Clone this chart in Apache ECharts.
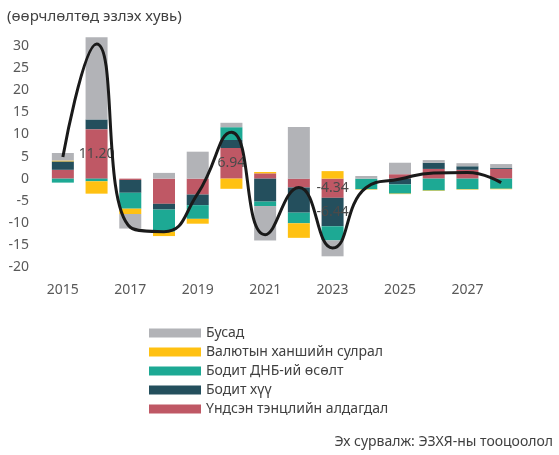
<!DOCTYPE html>
<html>
<head>
<meta charset="utf-8">
<script src="https://cdn.jsdelivr.net/npm/echarts@6/dist/echarts.min.js"></script>
<style>
  html, body { margin: 0; padding: 0; background: #fff; }
  #chart { width: 559px; height: 455px; }
</style>
</head>
<body>
<div id="chart"></div>
<script>
const years = ['2015', '2016', '2017', '2018', '2019', '2020', '2021',
  '2022', '2023', '2024', '2025', '2026', '2027', '2028'];

// stacked from zero outwards, same order as the bars
const primaryDeficit = [2.0, 11.2, -0.3, -5.7, -3.6, 6.94, 1.2, -2.0, -4.34, 0, 1.0, 2.2, 2.0, 2.2];
const realRate = [1.9, 2.2, -2.9, -1.3, -2.4, 1.8, -5.2, -5.7, -6.44, 0, -1.3, 1.4, 0.8, 0.2];
const gdpGrowth = [-0.9, -0.6, -3.6, -5.0, -3.1, 2.9, -1.0, -2.4, -3.2, -2.4, -2.1, -2.7, -2.4, -2.3];
const fxDepreciation = [0.2, -2.8, -1.2, -1.0, -1.1, -2.3, 0.3, -3.3, 1.7, -0.1, -0.1, -0.1, -0.1, -0.1];
const other = [1.7, 18.6, -3.3, 1.3, 6.1, 1.0, -7.8, 11.7, -3.6, 0.6, 2.6, 0.6, 0.7, 0.9];
const total = [4.9, 30.5, -11.0, -12.0, -3.4, 10.5, -12.7, -2.0, -15.7, -2.0, -0.1, 1.3, 1.4, -0.9];

// which bar segments carry a value label
const labelledDeficit = ['2016', '2020', '2023'];
const labelledRate = ['2023'];

const font = '"Noto Sans", "DejaVu Sans", sans-serif';

function withLabels(values, labelled) {
  return values.map((v, i) => labelled.includes(years[i])
    ? { value: v, label: { show: true } }
    : v);
}

const chart = echarts.init(document.getElementById('chart'));

const barLabel = {
  show: false,
  position: 'inside',
  color: '#4a4a4a',
  fontSize: 14,
  fontFamily: font,
  textBorderWidth: 0,
  textBorderColor: 'transparent',
  formatter: p => p.value.toFixed(2)
};

function barSeries(name, data, color) {
  return {
    name: name,
    type: 'bar',
    stack: 'total',
    barWidth: 22,
    data: data,
    itemStyle: { color: color },
    label: barLabel,
    emphasis: { disabled: true }
  };
}

const option = {
  animation: false,
  textStyle: { fontFamily: font },
  graphic: [
    {
      type: 'text',
      left: 7,
      top: 9,
      style: { text: '(өөрчлөлтөд эзлэх хувь)', fontSize: 15, fill: '#404040', fontFamily: font }
    },
    {
      type: 'text',
      right: 6,
      top: 435,
      style: { text: 'Эх сурвалж: ЭЗХЯ-ны тооцоолол', fontSize: 14, fill: '#404040', fontFamily: font }
    }
  ],
  legend: {
    orient: 'vertical',
    left: 144,
    top: 321,
    itemWidth: 52,
    itemHeight: 9,
    itemGap: 5,
    icon: 'rect',
    data: ['Бусад', 'Валютын ханшийн сулрал', 'Бодит ДНБ-ий өсөлт', 'Бодит хүү', 'Үндсэн тэнцлийн алдагдал'],
    textStyle: { fontSize: 14, color: '#404040', fontFamily: font, lineHeight: 14 }
  },
  grid: {
    left: 46,
    right: 41,
    top: 24,
    bottom: 188
  },
  xAxis: {
    type: 'category',
    data: years,
    axisLine: { show: false },
    axisTick: { show: false },
    axisLabel: { interval: 1, color: '#595959', fontSize: 14, margin: 16, fontFamily: font }
  },
  yAxis: {
    type: 'value',
    min: -20,
    max: 35,
    interval: 5,
    splitLine: { show: false },
    axisLine: { show: false },
    axisTick: { show: false },
    axisLabel: {
      color: '#595959',
      fontSize: 14,
      margin: 17,
      fontFamily: font,
      formatter: v => (v === 35 ? '' : v)
    }
  },
  series: [
    barSeries('Үндсэн тэнцлийн алдагдал', withLabels(primaryDeficit, labelledDeficit), '#BF5865'),
    barSeries('Бодит хүү', withLabels(realRate, labelledRate), '#244F5D'),
    barSeries('Бодит ДНБ-ий өсөлт', gdpGrowth, '#1DA994'),
    barSeries('Валютын ханшийн сулрал', fxDepreciation, '#FFC112'),
    barSeries('Бусад', other, '#B2B3B7'),
    {
      name: 'Нийт',
      type: 'line',
      data: total,
      smooth: 0.5,
      showSymbol: false,
      z: 5,
      lineStyle: { color: '#1a1a1a', width: 3 },
      emphasis: { disabled: true }
    }
  ]
};

chart.setOption(option);
</script>
</body>
</html>
